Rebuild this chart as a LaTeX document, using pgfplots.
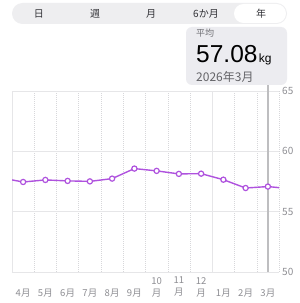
\documentclass[border=0pt]{standalone}
\usepackage{pgfplots}
\pgfplotsset{compat=1.18}
\usepackage{fontspec}
\setmainfont{Noto Sans CJK JP}
\newfontfamily\numfont{Liberation Sans}
\definecolor{ipurple}{RGB}{175,82,222}
\definecolor{labgray}{RGB}{142,142,147}
\definecolor{gridgray}{RGB}{230,230,232}
\definecolor{dotgray}{RGB}{215,215,218}
\definecolor{segbg}{RGB}{238,238,240}
\definecolor{boxbg}{RGB}{236,236,240}
\definecolor{seltext}{RGB}{50,50,55}
\definecolor{selline}{RGB}{190,190,192}
\pgfplotstableread{
x y
0 57.46
1 57.63
2 57.55
3 57.51
4 57.74
5 58.57
6 58.38
7 58.13
8 58.15
9 57.65
10 56.96
11 57.08
}\monthly
\pgfplotstableread{
x y
-1 57.80
0 57.46
1 57.63
2 57.55
3 57.51
4 57.74
5 58.57
6 58.38
7 58.13
8 58.15
9 57.65
10 56.96
11 57.08
12 56.90
}\fullline
\pgfplotsset{base/.style={
  at={(12pt,31pt)}, anchor=south west,
  width=267pt, height=181pt, scale only axis,
  xmin=-0.5, xmax=11.5, ymin=50, ymax=65}}
\begin{document}
\begin{tikzpicture}[x=1pt,y=1pt]
\useasboundingbox (0,0) rectangle (300,303);
\fill[white] (0,0) rectangle (300,303);
% segmented control
\fill[segbg, rounded corners=10.5pt] (12,279) rectangle (287,300);
\fill[white, rounded corners=9.5pt] (234,280) rectangle (286,299);
\begin{scope}[every node/.style={inner sep=0, text=seltext, font=\fontsize{10}{10}\selectfont}]
\node at (39,289.5) {日};
\node at (95,289.5) {週};
\node at (151,289.5) {月};
\node at (206,289.5) {6か月};
\node at (261,289.5) {年};
\end{scope}
% tooltip box
\fill[boxbg, rounded corners=6pt] (186,218) rectangle (287,276);
\node[anchor=west, inner sep=0, text=labgray!80!black, font=\fontsize{9}{9}\selectfont] at (196,269.5) {平均};
\node[anchor=base west, inner sep=0, font=\numfont\fontsize{24.5}{24.5}\selectfont] (num) at (196,240) {57.08};
\node[anchor=base west, inner sep=0, xshift=1pt, font=\numfont\fontsize{12}{12}\selectfont] at (num.base east) {kg};
\node[anchor=west, inner sep=0, text=labgray!70!black, font=\fontsize{12}{12}\selectfont] at (196,226) {2026年3月};
% grid and labels
\begin{axis}[base,
  axis line style={draw=none},
  clip=false,
  ytick={50,55,60,65},
  yticklabel pos=right,
  ymajorgrids,
  major grid style={draw=gridgray, line width=0.8pt},
  minor xtick={0.5,1.5,2.5,3.5,4.5,5.5,6.5,7.5,9.5,10.5,11.5},
  xminorgrids,
  minor grid style={draw=dotgray, line width=0.5pt, dash pattern=on 0.8pt off 1.2pt},
  major tick length=0pt, minor tick length=0pt,
  xtick={0,...,11},
  xticklabels={{\phantom{0}\\4月},{\phantom{0}\\5月},{\phantom{0}\\6月},{\phantom{0}\\7月},{\phantom{0}\\8月},{\phantom{0}\\9月},{10\\月},{11\\月},{12\\月},{\phantom{0}\\1月},{\phantom{0}\\2月},{\phantom{0}\\3月}},
  xticklabel style={align=center, anchor=north, inner sep=0pt, yshift=-5pt, text=labgray, font=\fontsize{9.5}{12}\selectfont},
  yticklabel style={anchor=west, inner sep=0pt, xshift=3pt, text=labgray, font=\fontsize{10}{10}\selectfont},
  /pgf/number format/assume math mode=true,
]
\draw[gridgray, line width=0.8pt] (axis cs:-0.5,50) -- (axis cs:-0.5,65);
\draw[gridgray, line width=0.9pt] (axis cs:8.5,50) -- (axis cs:8.5,65);
\draw[selline, line width=1.4pt] (axis cs:11,50) -- (axis cs:11,65) -- ++(0pt,6pt);
\end{axis}
% line (clipped at plot edges)
\begin{axis}[base, axis lines=none, clip=true]
\addplot[ipurple, line width=1.4pt, no markers] table[x=x,y=y] {\fullline};
\end{axis}
% markers
\begin{axis}[base, axis lines=none, clip=false]
\addplot[ipurple, only marks, mark=*, mark size=2.6pt, mark options={fill=white, draw=ipurple, line width=1.2pt}] table[x=x,y=y] {\monthly};
\end{axis}
\end{tikzpicture}
\end{document}
